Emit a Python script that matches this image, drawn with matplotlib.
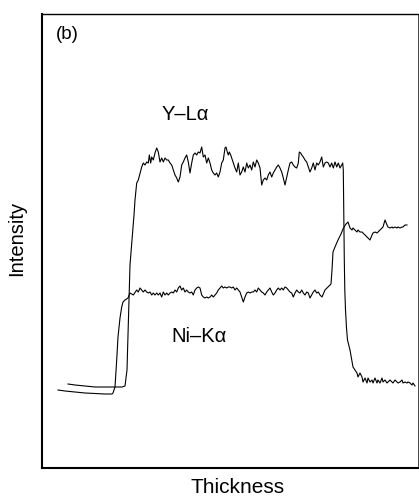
import numpy as np
import matplotlib
matplotlib.use("Agg")
import matplotlib.pyplot as plt

plt.rcParams['font.family'] = ['Liberation Sans', 'DejaVu Sans']

y_thick = [68, 75, 85, 95, 105, 115, 122, 125, 127, 128, 129, 130, 132, 134, 135, 136.7, 138.3, 141.7,
           143.3, 145, 146.7, 148.3, 149.3, 150.7, 151.7, 153.3, 155, 156.7, 158.3, 160, 161.7, 163.3, 165,
           166.7, 168.3, 170, 171.7, 173.3, 175, 176.7, 178.3, 180, 181.7, 183.3, 185, 186.7, 188.3, 190,
           191.7, 193.3, 195, 196.7, 198.3, 200, 201.7, 203.3, 205, 206.7, 208.3, 210, 211.7, 213.3, 215,
           216.7, 218.3, 220, 221.7, 223.3, 225, 226, 227.3, 228.3, 229.3, 230.7, 231.7, 233.3, 235, 236.7,
           238.3, 240, 241.7, 243.3, 245, 246.7, 248.3, 250, 251.7, 253.3, 255, 256.7, 258.3, 260, 261.7,
           263.3, 265, 266.7, 268.3, 270, 271.7, 273.3, 275, 276.7, 278.3, 280, 281.7, 283.3, 285, 286.7,
           288.3, 290, 291.7, 293.3, 295, 296.7, 298.3, 299.3, 300.7, 301.7, 303.3, 305, 306.7, 308.3, 310,
           311.7, 313.3, 315, 316.7, 318.3, 320, 321.7, 323.3, 325, 326.7, 328.3, 330, 331.7, 333.3, 335,
           336.7, 338.3, 340, 341.7, 342.7, 343.3, 343.6, 344, 344.3, 344.8, 345.5, 346.5, 347.5, 350, 353,
           357, 358, 360, 362, 363, 365, 367, 368, 370, 372, 373, 375, 377, 378, 380, 382, 383, 385, 387,
           388, 390, 392, 393, 395, 397, 398, 400, 402, 403, 405, 407, 408, 410, 412, 413, 415]
y_read = [384, 385, 386, 387, 387, 387, 387, 386, 370, 335, 300, 265, 240, 215, 200, 183, 180, 167,
          163, 165, 162, 163, 155, 163, 157, 160, 153, 148, 152, 162, 158, 162, 158,
          160, 160, 163, 165, 170, 175, 178, 182, 177, 165, 162, 158, 155, 162, 173,
          163, 155, 153, 155, 152, 153, 147, 157, 155, 163, 158, 163, 170, 173, 175,
          173, 177, 172, 163, 160, 148, 147, 152, 155, 152, 155, 158, 163, 168, 172,
          163, 175, 172, 167, 172, 163, 168, 165, 170, 162, 167, 160, 163, 168, 185,
          180, 178, 180, 175, 172, 177, 173, 170, 167, 165, 168, 172, 178, 185, 177,
          170, 163, 162, 165, 167, 168, 163, 152, 153, 155, 157, 160, 162, 167, 172,
          168, 163, 170, 163, 165, 162, 157, 167, 163, 162, 163, 167, 163, 168, 162,
          167, 163, 168, 165, 163, 170, 200, 230, 260, 290, 310, 328, 340, 350, 367,
          373, 377, 373, 377, 382, 378, 383, 378, 382, 380, 383, 378, 383, 380, 383, 378, 382, 380, 383,
          382, 380, 382, 383, 380, 382, 383, 382, 380, 383, 382, 383, 382, 383, 385, 383, 386]

ni_thick = [58, 65, 75, 85, 95, 105, 112, 113, 115, 116.7, 118, 120, 121.7, 123, 125, 128,
            130, 133.3, 136.7, 138.3, 140, 141.7, 143.3, 145, 146.7, 148.3, 150, 151.7, 153.3, 155,
            156.7, 158.3, 160, 161.7, 163.3, 165, 166.7, 168.3, 170, 171.7, 173.3, 175, 176.7, 178.3,
            180, 181.7, 183.3, 185, 186.7, 188.3, 190, 191.7, 193.3, 195, 196.7, 198.3, 200, 201.7,
            203.3, 205, 206.7, 208.3, 210, 211.7, 213.3, 215, 216.7, 218.3, 220, 221.7, 223.3, 225,
            226.7, 228.3, 230, 231.7, 233.3, 235, 236.7, 238.3, 240, 241.7, 243.3, 245, 246.7, 248.3,
            250, 251.7, 253.3, 255, 256.7, 258.3, 260, 261.7, 263.3, 265, 266.7, 268.3, 270, 271.7,
            273.3, 275, 276.7, 278.3, 280, 281.7, 283.3, 285, 286.7, 288.3, 290, 291.7, 293.3, 295,
            296.7, 298.3, 300, 301.7, 303.3, 305, 306.7, 308.3, 310, 311.7, 313.3, 315, 316.7, 318.3,
            320, 322, 325, 328, 331, 332, 333, 335, 338, 341, 343, 346, 348, 350, 352, 353, 355, 357,
            358, 360, 362, 363, 365, 367, 368, 370, 372, 373, 375, 377, 378, 380, 382, 383, 385, 387,
            388, 390, 392, 393, 395, 397, 398, 400, 402, 403, 405, 407]
ni_read = [390, 391, 392, 393, 393.5, 394, 394, 393, 387, 360, 337, 318, 307, 302, 300, 298,
           293, 295, 290, 292, 288, 290, 292, 290, 292, 293, 292, 295, 293, 295,
           293, 295, 293, 297, 292, 295, 293, 295, 293, 292, 293, 290, 292, 288,
           286, 290, 288, 292, 290, 292, 293, 292, 295, 290, 288, 287, 288, 295,
           297, 298, 297, 298, 297, 295, 297, 295, 293, 290, 288, 286, 288, 287,
           288, 287, 287, 288, 287, 290, 288, 290, 292, 297, 302, 297, 293, 292,
           293, 292, 292, 290, 292, 288, 290, 292, 293, 295, 292, 290, 288, 292,
           295, 293, 290, 288, 290, 288, 290, 287, 288, 290, 292, 293, 297, 293,
           290, 292, 293, 290, 293, 295, 292, 293, 298, 295, 292, 290, 293, 292,
           295, 297, 290, 287, 284, 270, 252, 247, 240, 234, 229, 224, 222, 228, 230, 228, 230, 232,
           230, 232, 232, 233, 235, 237, 238, 240, 235, 233, 232, 233, 232, 230, 228, 227, 220, 225,
           227, 228, 227, 228, 227, 228, 227, 228, 227, 227, 225, 225]

# convert readings to intensity (upward) in the same arbitrary units
AX_BOTTOM = 468
y_int = AX_BOTTOM - np.array(y_read, dtype=float)
ni_int = AX_BOTTOM - np.array(ni_read, dtype=float)

W, H = 419, 498
fig = plt.figure(figsize=(W / 100, H / 100), dpi=100)
ax = fig.add_axes([42 / W, (H - 468) / H, 376 / W, 454 / H])

ax.plot(y_thick, y_int, color='black', lw=0.8)
ax.plot(ni_thick, ni_int, color='black', lw=0.8)

ax.set_xlim(42, 418)
ax.set_ylim(0, 454)
ax.set_xticks([])
ax.set_yticks([])
ax.spines['left'].set_linewidth(1.5)
ax.spines['bottom'].set_linewidth(1.5)
ax.spines['top'].set_linewidth(1.0)
ax.spines['right'].set_linewidth(0.5)

ax.text(185, 468 - 115, 'Y–Lα', fontsize=14.5, ha='center', va='center')
ax.text(199, 468 - 337, 'Ni–Kα', fontsize=14.5, ha='center', va='center')
ax.text(67, 468 - 35, '(b)', fontsize=13.5, ha='center', va='center')

fig.text(17 / W, 1 - 238 / H, 'Intensity', rotation=90, fontsize=14.5, ha='center', va='center')
fig.text(238 / W, 1 - 487 / H, 'Thickness', fontsize=15, ha='center', va='center')

fig.savefig('out.png', dpi=100)
